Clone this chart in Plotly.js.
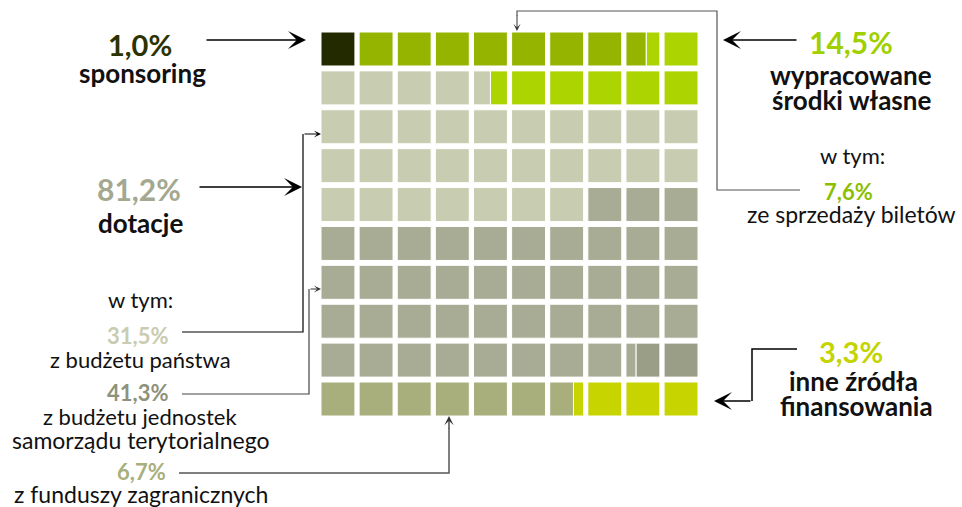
<!DOCTYPE html>
<html>
<head>
<meta charset="utf-8">
<script src="https://cdn.plot.ly/plotly-3.0.1.min.js"></script>
<style>html,body{margin:0;padding:0;background:#fff;}#chart{width:962px;height:507px;}</style>
</head>
<body>
<div id="chart"></div>
<script>
// ---- data (percent of total, 1 cell = 1%) ----
const categories = ["sponsoring", "ze sprzedaży biletów", "pozostałe środki własne",
  "z budżetu państwa", "z budżetu jednostek samorządu terytorialnego",
  "pozostałe dotacje", "z funduszy zagranicznych", "inne źródła finansowania"];
const values = [1.0, 7.6, 6.9, 31.5, 41.3, 1.7, 6.7, 3.3];
const colors = ["#232a00", "#94b400", "#acd400", "#c8ccb0", "#a8ac94", "#9a9e86", "#a8ae7c", "#c8d400"];
// fill direction of each grid row (1 = left to right, -1 = right to left)
const rowDirection = [1, -1, 1, 1, 1, 1, 1, 1, 1, 1];
const gridCols = 10, gridRows = 10;

const labelValues = {sponsoring: "1,0%", wlasne: "14,5%", bilety: "7,6%", dotacje: "81,2%",
  panstwa: "31,5%", samorzad: "41,3%", zagraniczne: "6,7%", inne: "3,3%"};

// ---- geometry of the waffle ----
const cellW = 34 / 38.2;   // cell size in column units
const cellH = 34 / 38.9;   // cell size in row units

function segmentsFor(start, len) {
  const segs = [];
  let p = start, end = start + len;
  while (p < end - 1e-9) {
    const k = Math.floor(p + 1e-9);
    const segEnd = Math.min(end, k + 1);
    let f0 = p - k, f1 = segEnd - k;
    const row = Math.floor(k / gridCols);
    let col = k % gridCols;
    if (rowDirection[row] === -1) {
      col = gridCols - 1 - col;
      const a = 1 - f1, b = 1 - f0; f0 = a; f1 = b;
    }
    segs.push({row: row, base: col + f0 * cellW, len: (f1 - f0) * cellW});
    p = segEnd;
  }
  return segs;
}

const traces = [];
let cum = 0;
categories.forEach((c, i) => {
  const segs = segmentsFor(cum, values[i]);
  cum += values[i];
  traces.push({
    type: "bar", orientation: "h", name: c,
    y: segs.map(s => s.row), x: segs.map(s => s.len), base: segs.map(s => s.base),
    width: segs.map(() => cellH),
    xaxis: "x2", yaxis: "y2",
    marker: {color: colors[i], line: {color: "#ffffff", width: 1}},
    hoverinfo: "skip", showlegend: false
  });
});

// ---- annotations ----
const FONT = "Lato, 'Open Sans', sans-serif";
const ann = [];
function txt(x, y, t, size, color, bold) {
  ann.push({xref: "x", yref: "y", x: x, y: y, text: bold ? "<b>" + t + "</b>" : t, showarrow: false,
    xanchor: "center", yanchor: "middle", font: {family: FONT, size: size, color: color}});
}
function arrow(x0, y0, x1, y1, size, width, color) {
  ann.push({xref: "x", yref: "y", axref: "x", ayref: "y", x: x1, y: y1, ax: x0, ay: y0, text: "",
    showarrow: true, arrowhead: 3, arrowsize: size, arrowwidth: width, arrowcolor: color, standoff: 0, startstandoff: 0});
}

const R = 22;  // regular text size
const B = 26;  // bold caption size
const S = 22;  // sub percent size

txt(140, 44, labelValues.sponsoring, 29, "#2b3300", true);
txt(142, 73, "sponsoring", B, "#111111", true);
txt(139, 189, labelValues.dotacje, 30, "#a4a890", true);
txt(140, 223, "dotacje", B, "#111111", true);
txt(140, 299, "w tym:", R, "#111111", false);
txt(137, 335, labelValues.panstwa, S, "#c8ccb0", true);
txt(140, 359, "z budżetu państwa", R, "#111111", false);
txt(137, 392, labelValues.samorzad, S, "#8e927a", true);
txt(140, 416, "z budżetu jednostek", R, "#111111", false);
txt(140, 440, "samorządu terytorialnego", R + 1, "#111111", false);
txt(141, 471, labelValues.zagraniczne, S, "#a8ae7c", true);
txt(141, 494, "z funduszy zagranicznych", R + 1, "#111111", false);

txt(851, 42, labelValues.wlasne, 30, "#a0d000", true);
txt(851, 75, "wypracowane", B, "#111111", true);
txt(851, 100, "środki własne", B, "#111111", true);
txt(852, 155, "w tym:", R, "#111111", false);
txt(848, 191, labelValues.bilety, S, "#8cbe00", true);
txt(851, 214, "ze sprzedaży biletów", R + 1, "#111111", false);
txt(851, 351, labelValues.inne, 29, "#c4d400", true);
txt(853, 381, "inne źródła", B, "#111111", true);
txt(856, 406, "finansowania", B, "#111111", true);

// straight arrows
arrow(205, 40, 306, 40, 2, 1.5, "#000000");
arrow(798, 40, 723, 40, 2, 1.5, "#000000");
arrow(198, 187, 302, 187, 2, 1.5, "#000000");
arrow(752, 401, 714, 401, 2, 1.5, "#000000");
// connector arrows (small heads)
arrow(517, 14, 517, 31, 1.2, 1, "#333333");
arrow(303, 134, 321, 134, 1.2, 1, "#000000");
arrow(309, 289, 321, 289, 1.2, 1, "#333333");
arrow(449, 430, 449, 416, 1.2, 1.3, "#333333");

const shapes = [
  {type: "path", xref: "x", yref: "y", path: "M800,190 L717,190 L717,11 L517,11 L517,16", line: {color: "#555555", width: 1.2}},
  {type: "path", xref: "x", yref: "y", path: "M182,332 L303,332 L303,134", line: {color: "#000000", width: 1.2}},
  {type: "path", xref: "x", yref: "y", path: "M182,394 L309,394 L309,289", line: {color: "#444444", width: 1.2}},
  {type: "path", xref: "x", yref: "y", path: "M179,473 L449,473 L449,428", line: {color: "#555555", width: 1.5}},
  {type: "path", xref: "x", yref: "y", path: "M797,349 L752,349 L752,401", line: {color: "#000000", width: 1.5}}
];

const W = 962, H = 507;
const layout = {
  width: W, height: H, margin: {l: 0, r: 0, t: 0, b: 0},
  paper_bgcolor: "#ffffff", plot_bgcolor: "rgba(0,0,0,0)",
  barmode: "overlay", showlegend: false, hovermode: false,
  xaxis: {domain: [0, 1], range: [0, W], visible: false, fixedrange: true},
  yaxis: {domain: [0, 1], range: [H, 0], visible: false, fixedrange: true},
  xaxis2: {domain: [321 / W, 698 / W], range: [0, gridCols - 1 + cellW], visible: false, anchor: "y2", fixedrange: true},
  yaxis2: {domain: [1 - 416 / H, 1 - 32 / H], range: [gridRows - 1 + cellH / 2, -cellH / 2], visible: false, anchor: "x2", fixedrange: true},
  annotations: ann, shapes: shapes
};
Plotly.newPlot("chart", traces, layout, {displayModeBar: false, staticPlot: true});
</script>
</body>
</html>
